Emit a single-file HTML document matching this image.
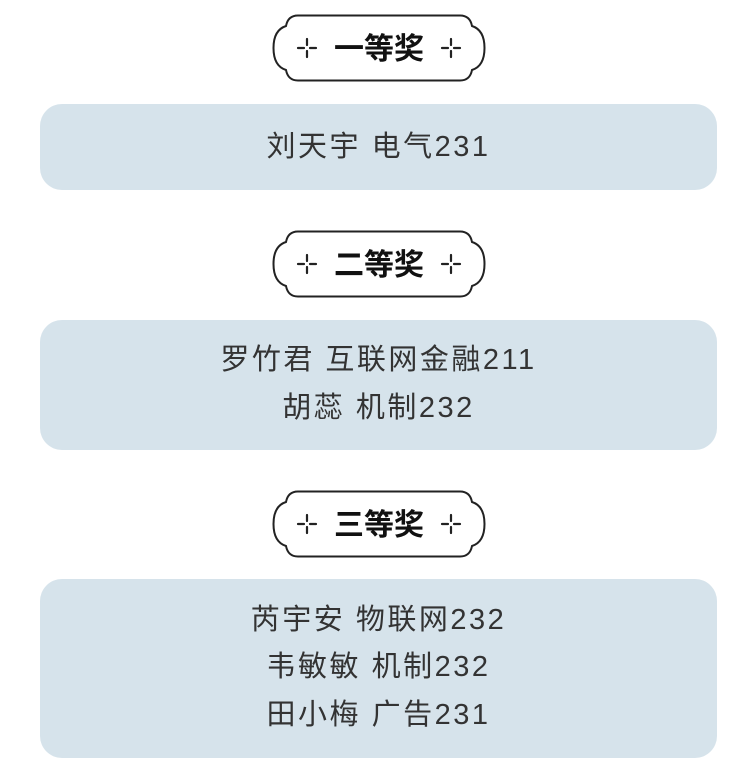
<!DOCTYPE html>
<html><head><meta charset="utf-8"><style>
html,body{margin:0;padding:0;background:#fff;width:754px;height:781px;overflow:hidden;position:relative;font-family:"Liberation Sans","Noto Sans CJK SC",sans-serif}
.card{position:absolute;left:40px;width:677px;background:#d6e3eb;border-radius:22px;color:#333;font-size:29px;text-align:center;letter-spacing:2.5px}
.card div{position:absolute;left:0;right:0;line-height:40px}
.badge{position:absolute;left:272px;width:214px;height:68px}
</style></head><body>
<svg width="0" height="0" style="position:absolute"><defs>
<g id="b">
<path d="M26,1.5 H188 Q198,1.5 200,12 Q212.5,16 212.5,34 Q212.5,52 200,56 Q198,66.5 188,66.5 H26 Q16,66.5 14,56 Q1.5,52 1.5,34 Q1.5,16 14,12 Q16,1.5 26,1.5 Z" fill="#fff" stroke="#222" stroke-width="2"/>
<g stroke="#222" stroke-width="2.2" stroke-linecap="round">
<path d="M26,34 h6 M38,34 h6 M35,25 v6 M35,37 v6"/>
<path d="M170,34 h6 M182,34 h6 M179,25 v6 M179,37 v6"/>
</g></g></defs></svg>

<svg class="badge" style="top:14px" viewBox="0 0 214 68"><use href="#b"/><text x="107" y="45" text-anchor="middle" font-size="30" font-weight="bold" fill="#111" font-family="Noto Sans CJK SC,sans-serif">一等奖</text></svg>
<div class="card" style="top:104px;height:86px"><div style="top:23px">刘天宇 电气231</div></div>

<svg class="badge" style="top:230px" viewBox="0 0 214 68"><use href="#b"/><text x="107" y="45" text-anchor="middle" font-size="30" font-weight="bold" fill="#111" font-family="Noto Sans CJK SC,sans-serif">二等奖</text></svg>
<div class="card" style="top:320px;height:130px"><div style="top:20px">罗竹君 互联网金融211</div><div style="top:68px">胡蕊 机制232</div></div>

<svg class="badge" style="top:490px" viewBox="0 0 214 68"><use href="#b"/><text x="107" y="45" text-anchor="middle" font-size="30" font-weight="bold" fill="#111" font-family="Noto Sans CJK SC,sans-serif">三等奖</text></svg>
<div class="card" style="top:579px;height:179px"><div style="top:21px">芮宇安 物联网232</div><div style="top:68px">韦敏敏 机制232</div><div style="top:116px">田小梅 广告231</div></div>
</body></html>
